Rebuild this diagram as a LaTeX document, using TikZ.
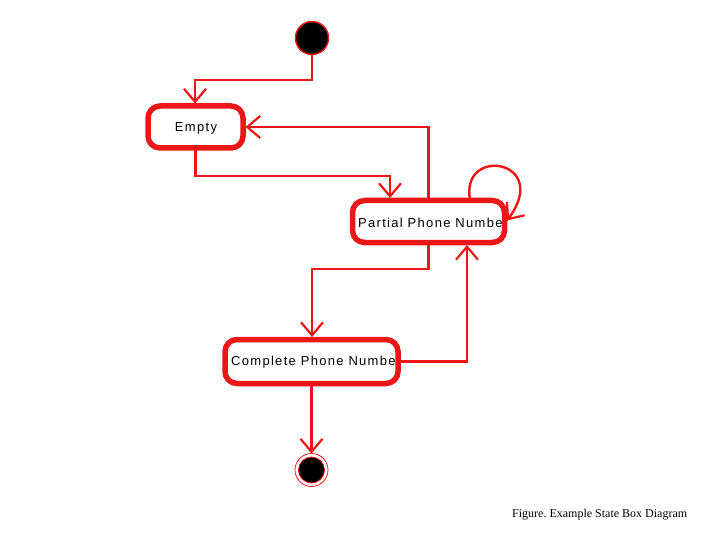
\documentclass[tikz,border=0pt]{standalone}
\usepackage{fontspec}
\setmainfont{Liberation Serif}
\newfontfamily\boxfont[LetterSpace=10]{Liberation Sans}
\usetikzlibrary{arrows.meta,calc}
\definecolor{umlred}{RGB}{236,22,22}
\frenchspacing
\tikzset{
  conn/.style={draw=umlred, line width=2.4pt},
  arr/.style={conn, -{Straight Barb[length=13pt,width=22pt,line width=2.2pt]}},
  statebox/.style={rectangle, rounded corners=12pt, draw=umlred, line width=5.5pt, inner sep=0pt, outer sep=2.5pt},
  lbl/.style={inner sep=0pt, font=\boxfont\fontsize{13}{15}\selectfont, text=black},
}
\begin{document}
\begin{tikzpicture}[x=1pt,y=-1pt]
\useasboundingbox (0,0) rectangle (720,540);
% labels first so borders lie over them
\node[lbl] (emptytxt) at (196,128) {Empty};
\node[lbl, anchor=west] (partialtxt) at (358,222.5) {Partial Phone Number};
\node[lbl, anchor=west] (completetxt) at (231,362.5) {Complete Phone Number};
% states
\node[statebox, minimum width=95pt, minimum height=42pt] (empty) at (195.5,127) {};
\node[statebox, minimum width=152pt, minimum height=42pt] (partial) at (428.5,221.5) {};
\node[statebox, minimum width=173pt, minimum height=44pt] (complete) at (311.5,361.5) {};
% pseudo states
\node[circle, fill=black, draw=umlred, line width=1.5pt, minimum size=33pt, inner sep=0pt] (start) at (312,38) {};
\node[circle, draw=umlred, line width=0.8pt, minimum size=33pt, inner sep=0pt, outer sep=0pt,
  path picture={\filldraw[fill=black, draw=umlred, line width=0.8pt] (path picture bounding box.center) circle (13pt);}] (final) at (311.5,470) {};
% helper points
\coordinate (c1) at (195,80);
\coordinate (c2) at (390,176);
\coordinate (c3) at (312,269);
\coordinate (c4) at (467,250);
\coordinate (c5) at (470,200);
% transitions
\draw[arr] (start.south) |- (c1) -- (c1 |- empty.north);
\draw[arr] (empty.south) |- (c2) -- (c2 |- partial.north);
\draw[arr] (partial.north) |- (empty.east);
\draw[arr] (c5) .. controls (460,145) and (552,160) .. ($(partial.east)+(0,-1)$);
\draw[arr] (partial.south) |- (c3) -- (c3 |- complete.north);
\draw[arr] (complete.east) -| (c4 |- partial.south);
\draw[arr] (complete.south) -- (final.north);
% caption
\node[anchor=west, inner sep=0pt, font=\fontsize{12}{14}\selectfont] (caption) at (512,515) {Figure. Example State Box Diagram};
\end{tikzpicture}
\end{document}
